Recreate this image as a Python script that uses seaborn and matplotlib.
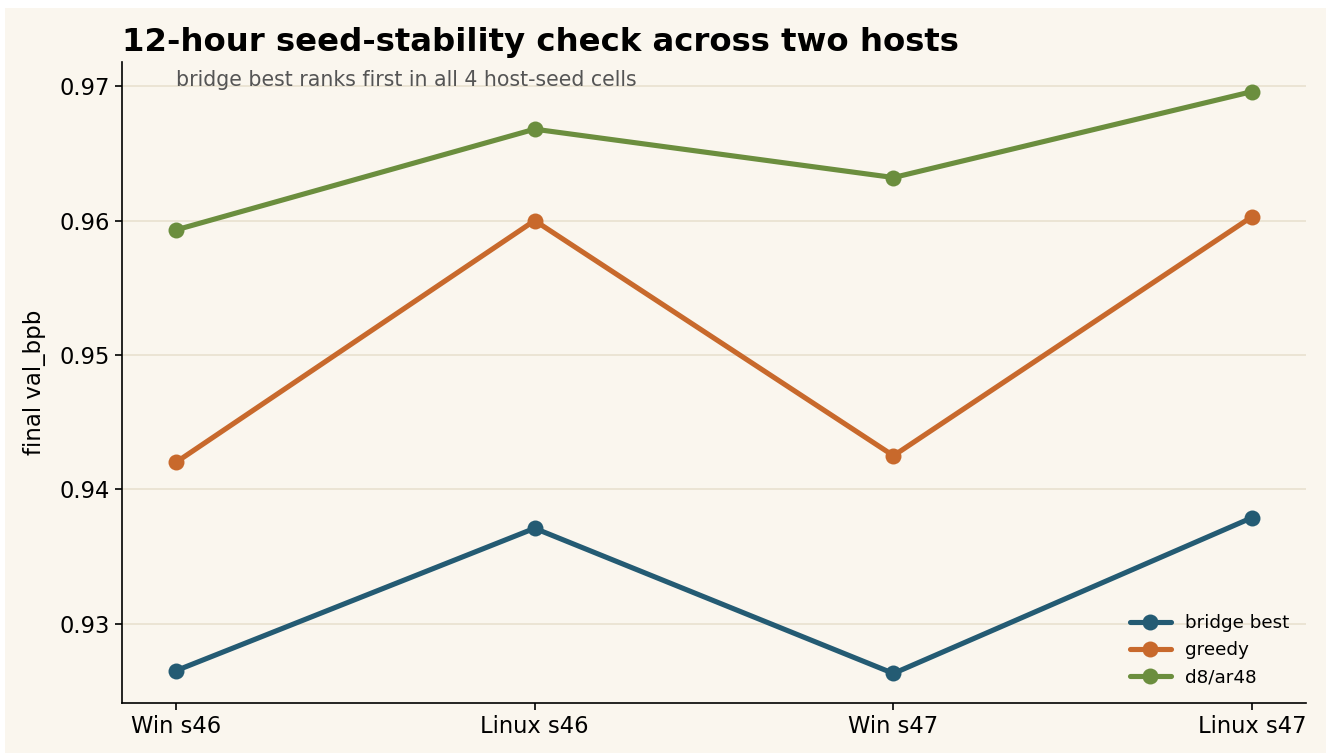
import matplotlib
matplotlib.use("Agg")
import matplotlib.pyplot as plt
import seaborn as sns
import pandas as pd
from matplotlib.patches import Rectangle

hosts = ["Win s46", "Linux s46", "Win s47", "Linux s47"]
bridge_best = [0.9265, 0.9371, 0.9263, 0.9379]
greedy = [0.9420, 0.9600, 0.9425, 0.9603]
d8_ar48 = [0.9593, 0.9668, 0.9632, 0.9696]
series_names = ["bridge best", "greedy", "d8/ar48"]
colors = ["#245B73", "#C8692C", "#6B8E3E"]

rows = []
for name, vals in zip(series_names, [bridge_best, greedy, d8_ar48]):
    for h, v in zip(hosts, vals):
        rows.append({"host": h, "val": v, "series": name})
df = pd.DataFrame(rows)

sns.set_style("ticks")
plt.rcParams['font.family'] = ['DejaVu Sans']
plt.rcParams['text.color'] = 'black'
plt.rcParams['axes.labelcolor'] = 'black'

bg = "#FAF6EE"
fig = plt.figure(figsize=(13.26, 7.53), dpi=100, facecolor="white")
fig.patches.append(Rectangle((5/1326, 0), 1 - 5/1326, 1 - 8/753, transform=fig.transFigure,
                             facecolor=bg, edgecolor="none", zorder=-10))
ax = fig.add_axes([0.092, 0.0664, 0.893, 0.8513])
ax.set_facecolor(bg)

sns.lineplot(data=df, x="host", y="val", hue="series", hue_order=series_names,
             palette=colors, marker="o", markersize=11.5, markeredgewidth=0,
             linewidth=3.7, ax=ax, sort=False)

ax.set_xlim(-0.15, 3.15)
ax.set_ylim(0.9241, 0.9718)
ax.set_yticks([0.93, 0.94, 0.95, 0.96, 0.97])
ax.set_yticklabels(["0.93", "0.94", "0.95", "0.96", "0.97"])
ax.yaxis.grid(True, color="#E8E1CF", linewidth=1.2)
ax.xaxis.grid(False)
ax.set_axisbelow(True)
for s in ["top", "right"]:
    ax.spines[s].set_visible(False)
for s in ["left", "bottom"]:
    ax.spines[s].set_color("black")
    ax.spines[s].set_linewidth(1.2)
ax.tick_params(axis="both", labelsize=16.3, colors="black", length=5, width=1.2)
ax.set_xlabel("")
ax.set_ylabel("final val_bpb", fontsize=16.5, color="black", labelpad=10)

ax.set_title("12-hour seed-stability check across two hosts", loc="left",
             fontsize=23.3, fontweight="bold", pad=8, color="black")
ax.text(0.046, 0.988, "bridge best ranks first in all 4 host-seed cells",
        transform=ax.transAxes, ha="left", va="top", fontsize=14.8, color="#555555")

leg = ax.legend(loc="lower right", frameon=False, fontsize=13.2, title=None,
                handlelength=2.2, bbox_to_anchor=(1.0, 0.0))

fig.savefig("out.png", dpi=100, facecolor=fig.get_facecolor())
